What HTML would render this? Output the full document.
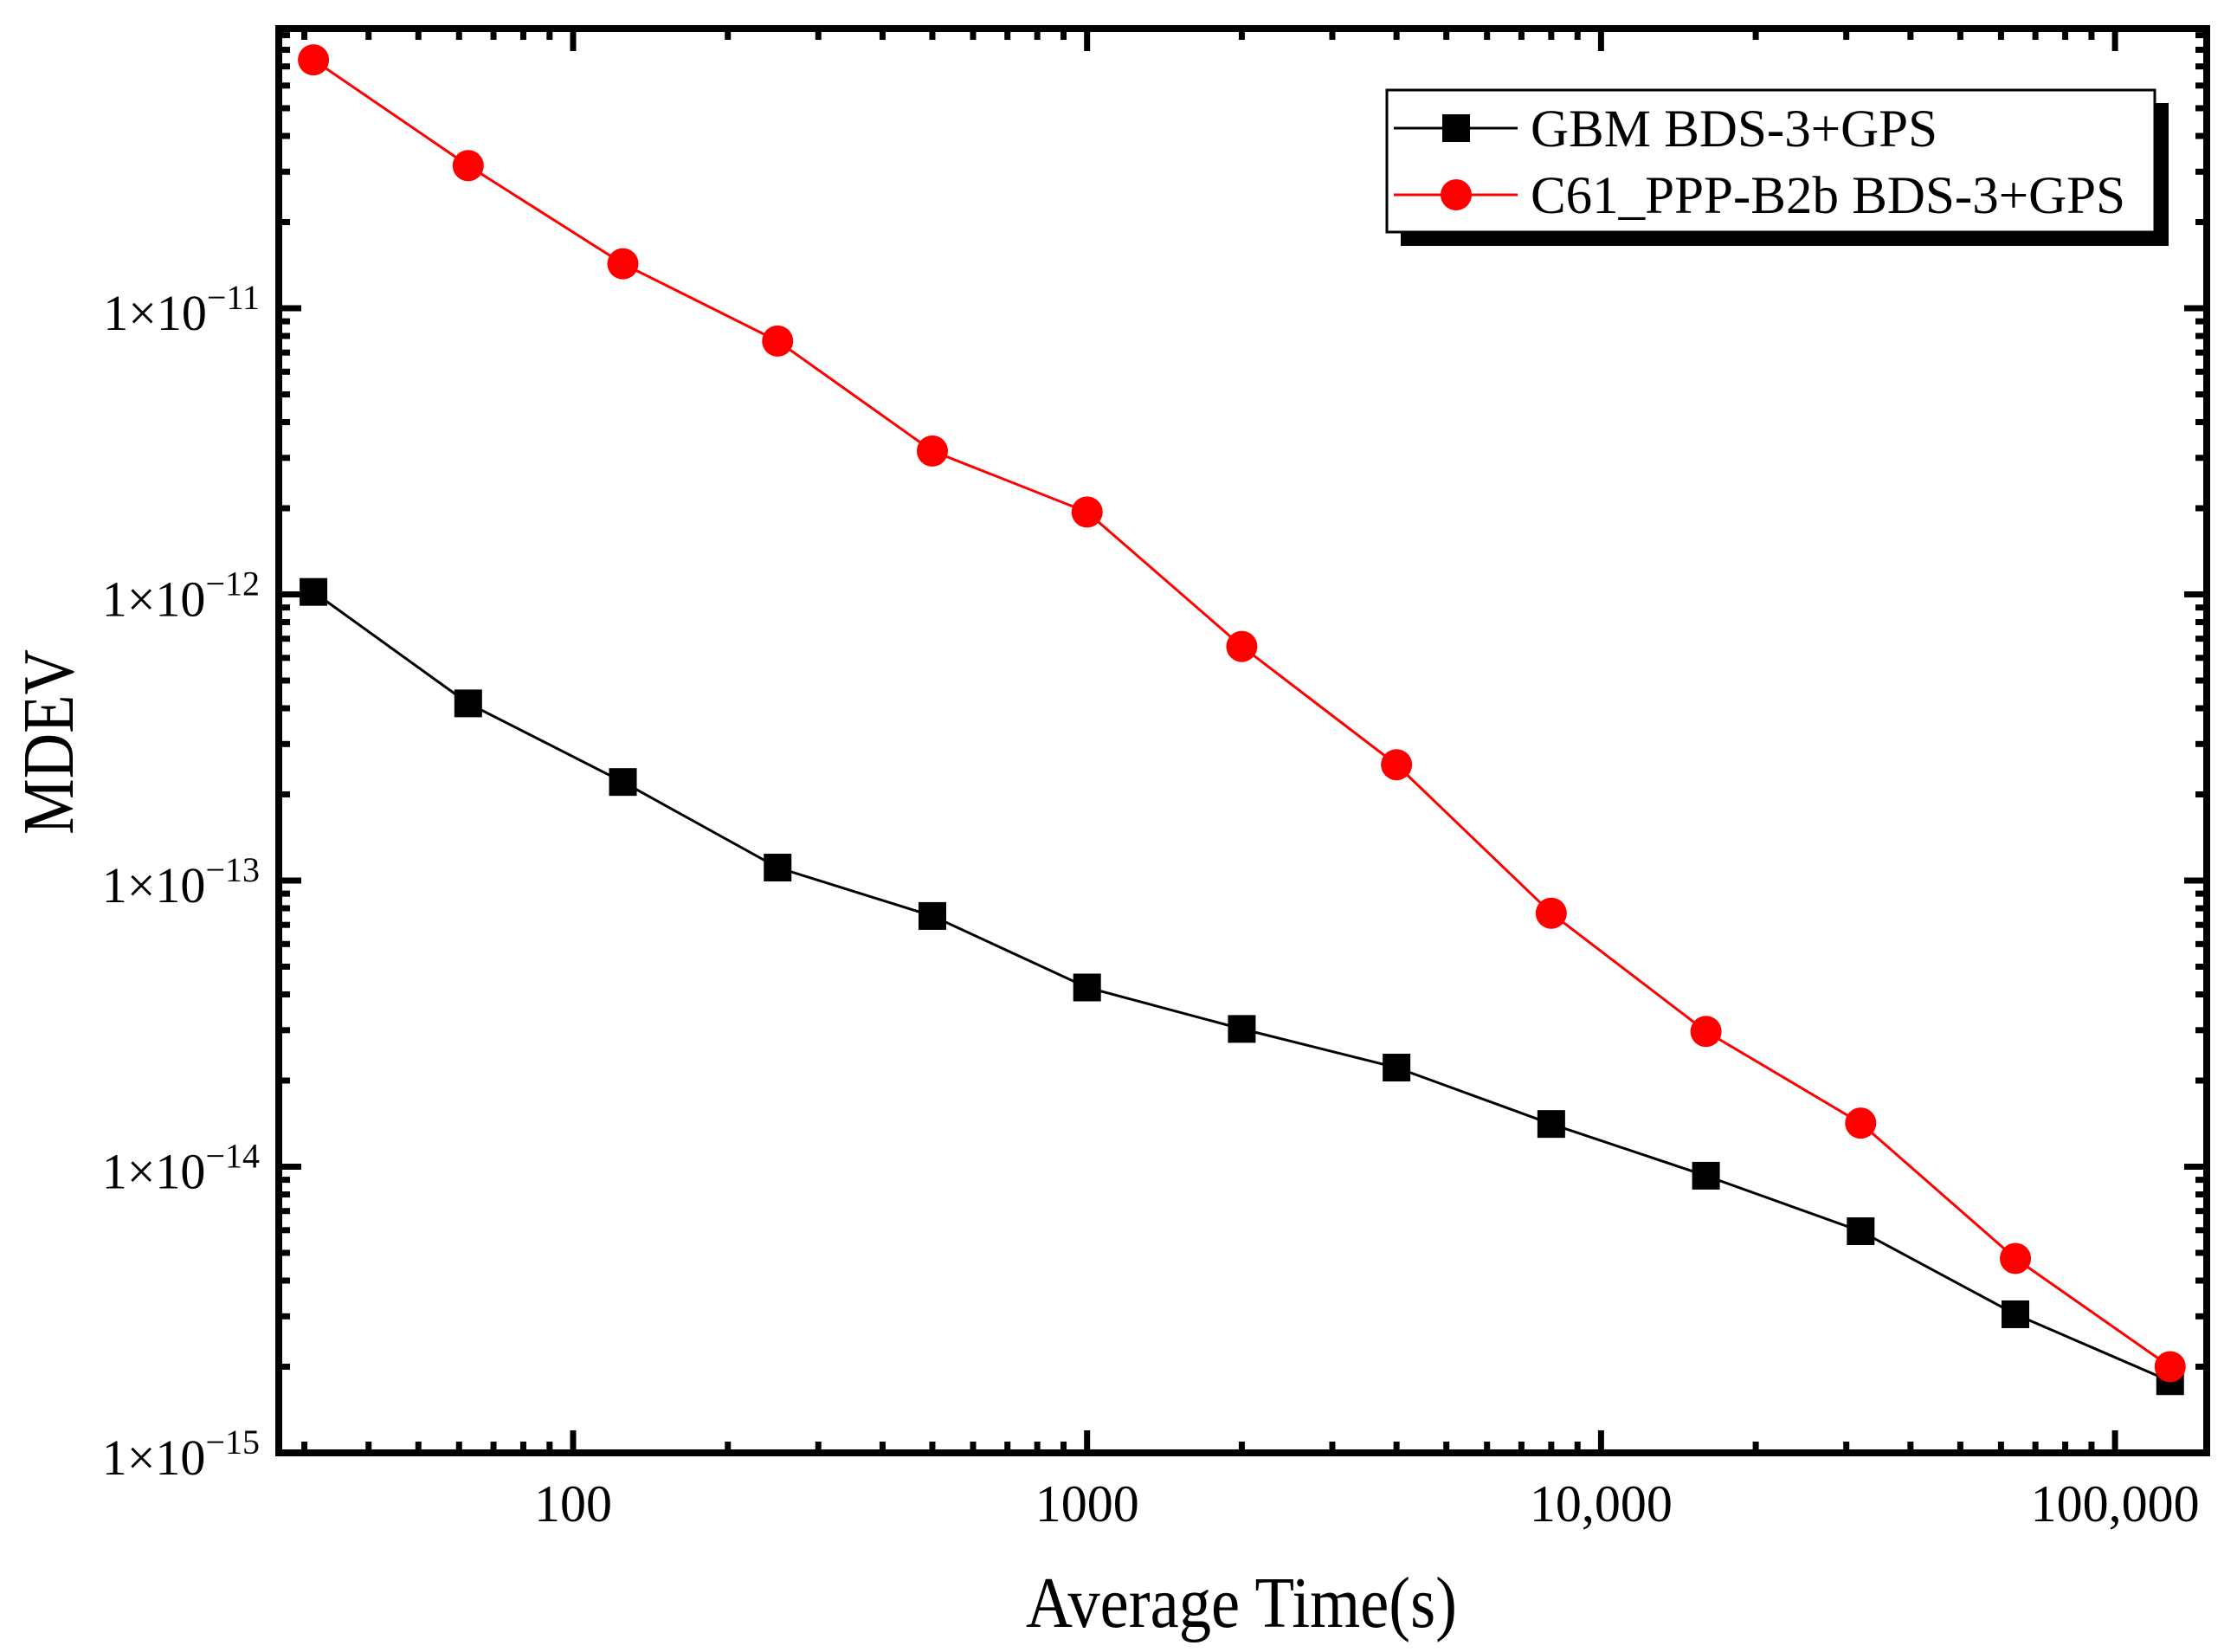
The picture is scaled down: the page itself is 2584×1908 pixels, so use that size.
<!DOCTYPE html>
<html><head><meta charset="utf-8"><style>
html,body{margin:0;padding:0;background:#fff;}
svg{display:block;}
text{font-family:"Liberation Serif",serif;fill:#000;}
</style></head><body>
<svg id="chart" width="2584" height="1908" viewBox="0 0 2584 1908" xmlns="http://www.w3.org/2000/svg">
<g id="ticks"></g>
<g id="series"></g>
<rect x="322" y="33" width="2227" height="1645" fill="none" stroke="#000" stroke-width="8"/>
<g id="labels"></g>
<text x="1434" y="1879" font-size="84" text-anchor="middle" textLength="498" lengthAdjust="spacingAndGlyphs">Average Time(s)</text>
<text transform="translate(84,857) rotate(-90)" font-size="84" text-anchor="middle" textLength="214" lengthAdjust="spacingAndGlyphs">MDEV</text>
<g>
  <rect x="1618" y="119" width="887" height="165" fill="#000"/>
  <rect x="1602" y="104" width="887" height="164" fill="#fff" stroke="#000" stroke-width="3"/>
  <g>
    <line x1="1610" y1="148" x2="1753" y2="148" stroke="#000" stroke-width="3"/>
    <rect x="1666" y="132" width="32" height="32" fill="#000"/>
    <text x="1768" y="169" font-size="61">GBM BDS-3+GPS</text>
  </g>
  <g>
    <line x1="1610" y1="225" x2="1753" y2="225" stroke="#f00" stroke-width="3"/>
    <ellipse cx="1682" cy="225" rx="18" ry="18" fill="#f00"/>
    <text x="1768" y="246" font-size="61">C61_PPP-B2b BDS-3+GPS</text>
  </g>
</g>
</svg>
<script>
const tau = [31.25, 62.5, 125, 250, 500, 1000, 2000, 4000, 8000, 16000, 32000, 64000, 128000];
const gbm = [1.02e-12, 4.16e-13, 2.21e-13, 1.11e-13, 7.52e-14, 4.23e-14, 3.03e-14, 2.22e-14, 1.41e-14, 9.3e-15, 5.95e-15, 3.05e-15, 1.78e-15];
const c61 = [7.38e-11, 3.15e-11, 1.43e-11, 7.68e-12, 3.17e-12, 1.94e-12, 6.58e-13, 2.54e-13, 7.69e-14, 2.97e-14, 1.42e-14, 4.78e-15, 2.0e-15];
const xTickVals = [100, 1000, 10000, 100000];
const xTickLabels = ["100", "1000", "10,000", "100,000"];
const yTickExps = [-11, -12, -13, -14, -15];

const NS = "http://www.w3.org/2000/svg";
const X0 = 662, XDEC = 593.7;
const Y0 = 1678, YDEC = 330.5;
const L = 322, R = 2549, T = 33, B = 1678;
function xs(v){ return X0 + (Math.log10(v) - 2) * XDEC; }
function ys(v){ return Y0 - (Math.log10(v) + 15) * YDEC; }
function mk(tag, attrs, parent){
  const e = document.createElementNS(NS, tag);
  for (const k in attrs) e.setAttribute(k, attrs[k]);
  parent.appendChild(e); return e;
}
const ticks = document.getElementById('ticks');
const labels = document.getElementById('labels');
const series = document.getElementById('series');

for (let d = 1; d <= 5; d++) {
  for (let m = 1; m <= 9; m++) {
    const v = m * Math.pow(10, d);
    const x = xs(v);
    if (x < L + 5 || x > R - 5) continue;
    const len = m === 1 ? 26 : 13;
    const t1 = mk('line', {x1:x, y1:B, x2:x, y2:B - len, stroke:'#000', 'stroke-width':7}, ticks);
    
    
    const t2 = mk('line', {x1:x, y1:T, x2:x, y2:T + len, stroke:'#000', 'stroke-width':7}, ticks);
    
    
  }
}
for (let e = -15; e <= -11; e++) {
  for (let m = 1; m <= 9; m++) {
    const v = m * Math.pow(10, e);
    const y = ys(v);
    if (y < T + 5 || y > B + 1) continue;
    const len = m === 1 ? 26 : 13;
    const t1 = mk('line', {x1:L, y1:y, x2:L + len, y2:y, stroke:'#000', 'stroke-width':7}, ticks);
    
    
    const t2 = mk('line', {x1:R, y1:y, x2:R - len, y2:y, stroke:'#000', 'stroke-width':7}, ticks);
    
    
  }
}
xTickVals.forEach((v, i) => {
  const t = mk('text', {x: xs(v), y: 1757, 'font-size': 60, 'text-anchor':'middle'}, labels);
  
  
  t.textContent = xTickLabels[i];
});
yTickExps.forEach(e => {
  const y = ys(Math.pow(10, e));
  const t = mk('text', {x: 300, y: y + 25, 'font-size': 58, 'text-anchor':'end'}, labels);
  
  
  const a = document.createElementNS(NS, 'tspan');
  a.textContent = '1\u00d710';
  t.appendChild(a);
  const b = document.createElementNS(NS, 'tspan');
  b.setAttribute('dy', '-24');
  b.setAttribute('font-size', '40');
  b.textContent = '\u2212' + (-e);
  t.appendChild(b);
});
function drawLine(vals, color, name){
  const pts = tau.map((t, i) => xs(t) + ',' + ys(vals[i])).join(' ');
  const p = mk('polyline', {points: pts, fill:'none', stroke: color, 'stroke-width': 3}, series);
  
  
}
drawLine(gbm, '#000', 'gbm-line');
drawLine(c61, '#f00', 'c61-line');
tau.forEach((t, i) => {
  const r = mk('rect', {x: xs(t) - 16, y: ys(gbm[i]) - 16, width: 32, height: 32, fill:'#000'}, series);
  
  
});
tau.forEach((t, i) => {
  const c = mk('circle', {cx: xs(t), cy: ys(c61[i]), r: 18, fill:'#f00'}, series);
  
  
});
</script>
</body></html>
